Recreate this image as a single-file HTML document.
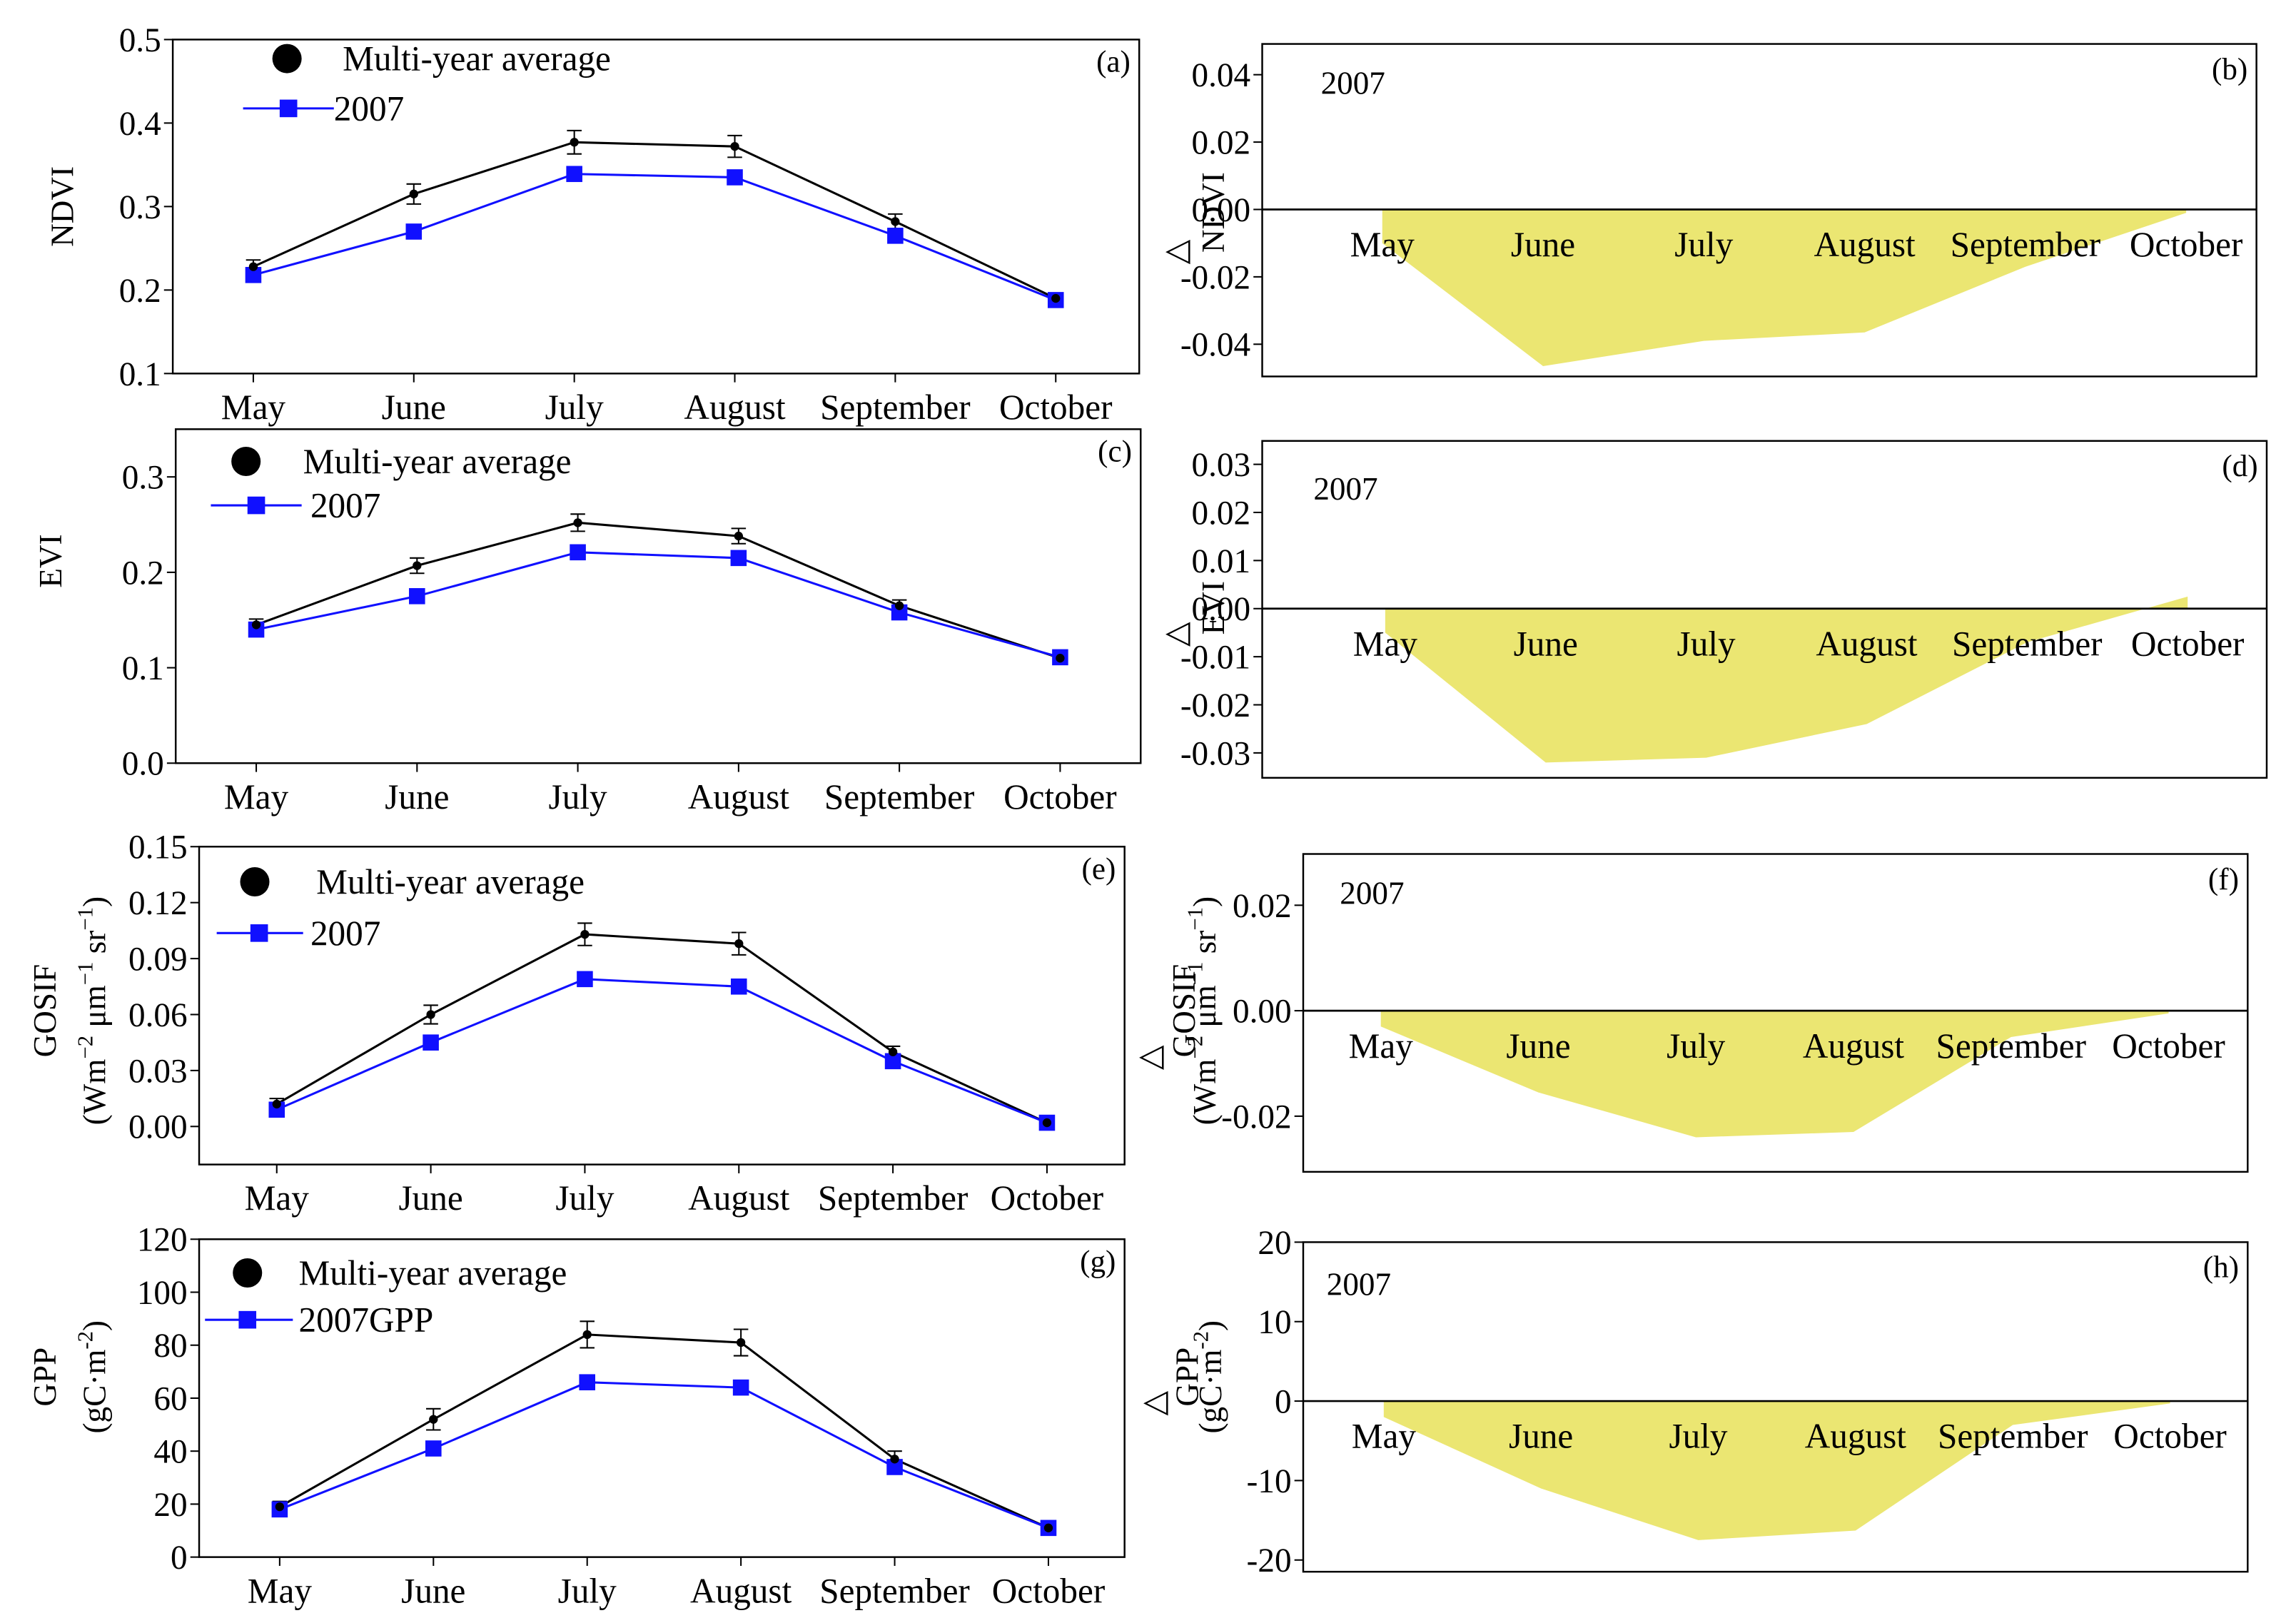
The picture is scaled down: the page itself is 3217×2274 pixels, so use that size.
<!DOCTYPE html>
<html><head><meta charset="utf-8"><style>
html,body{margin:0;padding:0;background:#fff}
svg{display:block;font-family:"Liberation Serif",serif}
</style></head><body>
<svg id="fig" width="3217" height="2274" viewBox="0 0 1568 1108" preserveAspectRatio="none" xmlns="http://www.w3.org/2000/svg"></svg>
<script>
const months = ["May","June","July","August","September","October"];
// left panels data
const ndviAvg = [0.228,0.315,0.377,0.372,0.282,0.190];
const ndvi2007 = [0.218,0.270,0.339,0.335,0.265,0.188];
const eviAvg = [0.145,0.207,0.252,0.238,0.165,0.110];
const evi2007 = [0.140,0.175,0.221,0.215,0.158,0.111];
const sifAvg = [0.012,0.060,0.103,0.098,0.040,0.002];
const sif2007 = [0.009,0.045,0.079,0.075,0.035,0.002];
const gppAvg = [19,52,84,81,37,11];
const gpp2007 = [18,41,66,64,34,11];
// error bars
const ndviErr = [0.008,0.012,0.014,0.013,0.009,0.004];
const eviErr = [0.006,0.008,0.009,0.008,0.006,0.003];
const sifErr = [0.003,0.005,0.006,0.006,0.003,0.002];
const gppErr = [2,4,5,5,3,1.5];
// differences
const ndviDiff = [-0.010,-0.0465,-0.039,-0.0365,-0.017,-0.001];
const eviDiff = [-0.005,-0.032,-0.031,-0.024,-0.007,0.0025];
const sifDiff = [-0.003,-0.0155,-0.024,-0.023,-0.005,-0.0005];
const gppDiff = [-2,-11,-17.5,-16.3,-3,-0.3];
// ticks
const ndviTicks = ["0.1","0.2","0.3","0.4","0.5"];
const eviTicks = ["0.0","0.1","0.2","0.3"];
const sifTicks = ["0.00","0.03","0.06","0.09","0.12","0.15"];
const gppTicks = ["0","20","40","60","80","100","120"];
const dNdviTicks = ["-0.04","-0.02","0.00","0.02","0.04"];
const dEviTicks = ["-0.03","-0.02","-0.01","0.00","0.01","0.02","0.03"];
const dSifTicks = ["-0.02","0.00","0.02"];
const dGppTicks = ["-20","-10","0","10","20"];

const svg = document.getElementById('fig');
const NS = "http://www.w3.org/2000/svg";
function mk(tag, attrs, parent, text){
  const e = document.createElementNS(NS, tag);
  for (const k in attrs) e.setAttribute(k, attrs[k]);
  if (text !== undefined) e.textContent = text;
  (parent||svg).appendChild(e);
  return e;
}
function scale(d0,d1,r0,r1){return v => r0 + (v-d0)/(d1-d0)*(r1-r0);}

function leftPanel(p){
  const g = mk('g',{});
  
  
  const y = scale(p.d0,p.d1,p.bottom,p.top);
  const x = i => p.x0 + i*p.dx;
  const fr = mk('rect',{x:p.left,y:p.top,width:p.right-p.left,height:p.bottom-p.top,fill:'none',stroke:'#000','stroke-width':1.2},g);
  
  
  p.ticks.forEach(t=>{
    const v = parseFloat(t), yy = y(v);
    mk('line',{x1:p.left-6,x2:p.left,y1:yy,y2:yy,stroke:'#000'},g);
    const tx = mk('text',{x:p.left-8,y:yy+8,'text-anchor':'end','font-size':23},g,t);
    
    
  });
  months.forEach((m,i)=>{
    mk('line',{x1:x(i),x2:x(i),y1:p.bottom,y2:p.bottom+6,stroke:'#000'},g);
    const tx = mk('text',{x:x(i),y:p.bottom+31,'text-anchor':'middle','font-size':24},g,m);
    
    
  });
  const la = mk('polyline',{points:p.avg.map((v,i)=>x(i)+','+y(v)).join(' '),fill:'none',stroke:'#000','stroke-width':1.5},g);
  
  
  const lb = mk('polyline',{points:p.yr.map((v,i)=>x(i)+','+y(v)).join(' '),fill:'none',stroke:'#1010ff','stroke-width':1.5},g);
  
  
  p.avg.forEach((v,i)=>{
    const e = p.err[i];
    mk('line',{x1:x(i),x2:x(i),y1:y(v+e),y2:y(v-e),stroke:'#000'},g);
    mk('line',{x1:x(i)-5,x2:x(i)+5,y1:y(v+e),y2:y(v+e),stroke:'#000'},g);
    mk('line',{x1:x(i)-5,x2:x(i)+5,y1:y(v-e),y2:y(v-e),stroke:'#000'},g);
  });
  p.yr.forEach((v,i)=>{
    const s = mk('rect',{x:x(i)-5.5,y:y(v)-5.5,width:11,height:11,fill:'#1010ff'},g);
    
    
  });
  p.avg.forEach((v,i)=>{
    const c = mk('circle',{cx:x(i),cy:y(v),r:3,fill:'#000'},g);
    
    
  });
  const lg = mk('g',{},g);
  
  
  mk('circle',{cx:p.lc[0],cy:p.lc[1],r:10,fill:'#000'},lg);
  mk('text',{x:p.lt[0],y:p.lc[1]+8,'font-size':24},lg,'Multi-year average');
  mk('line',{x1:p.ll[0],x2:p.ll[1],y1:p.ll[2],y2:p.ll[2],stroke:'#1010ff','stroke-width':1.5},lg);
  mk('rect',{x:p.ll[3]-6,y:p.ll[2]-6,width:12,height:12,fill:'#1010ff'},lg);
  mk('text',{x:p.ll[4],y:p.ll[2]+8,'font-size':24},lg,p.yrLabel);
  const pl = mk('text',{x:p.right-6,y:p.top+22,'text-anchor':'end','font-size':21},g,p.letter);
  
  
  p.ylab.forEach((l,k)=>{
    const t = mk('text',{transform:`translate(${l[0]},${l[1]}) rotate(-90)`,'text-anchor':'middle','font-size':22},g);
    t.innerHTML = l[2];
    
    
  });
}

function rightPanel(p){
  const g = mk('g',{});
  
  
  const y = scale(p.d0,p.d1,p.bot0,p.top0);
  const x = i => p.x0 + i*p.dx;
  const pts = [x(0)+','+y(0)].concat(p.diff.map((v,i)=>x(i)+','+y(v))).concat([x(5)+','+y(0)]);
  const a = mk('polygon',{points:pts.join(' '),fill:'#ebe672',stroke:'none'},g);
  
  
  const fr = mk('rect',{x:p.left,y:p.top,width:p.right-p.left,height:p.bottom-p.top,fill:'none',stroke:'#000','stroke-width':1.2},g);
  
  
  mk('line',{x1:p.left,x2:p.right,y1:y(0),y2:y(0),stroke:'#000','stroke-width':1.3},g);
  p.ticks.forEach(t=>{
    const v = parseFloat(t), yy = y(v);
    mk('line',{x1:p.left-6,x2:p.left,y1:yy,y2:yy,stroke:'#000'},g);
    const tx = mk('text',{x:p.left-8,y:yy+8,'text-anchor':'end','font-size':23},g,t);
    
    
  });
  months.forEach((m,i)=>{
    const tx = mk('text',{x:x(i),y:y(0)+32,'text-anchor':'middle','font-size':24},g,m);
    
    
  });
  mk('text',{x:p.yl[0],y:p.yl[1],'font-size':22},g,'2007');
  const pl = mk('text',{x:p.right-6,y:p.top+24,'text-anchor':'end','font-size':21},g,p.letter);
  
  
  const tri = mk('text',{transform:`translate(${p.tri[0]},${p.tri[1]}) rotate(-90)`,'text-anchor':'middle','font-size':22},g,'△');
  
  
  p.ylab.forEach(l=>{
    const t = mk('text',{transform:`translate(${l[0]},${l[1]}) rotate(-90)`,'text-anchor':'middle','font-size':22},g);
    t.innerHTML = l[2];
    
    
  });
}

leftPanel({name:'panel-a-ndvi',left:118,top:27,right:778,bottom:255,d0:0.1,d1:0.5,x0:173,dx:109.6,
  avg:ndviAvg,yr:ndvi2007,err:ndviErr,ticks:ndviTicks,lc:[196,40],lt:[234],ll:[166,228,74,197,228],yrLabel:'2007',letter:'(a)',
  ylab:[[50,141,'NDVI']]});
leftPanel({name:'panel-c-evi',left:120,top:293,right:779,bottom:521,d0:0,d1:0.35,x0:175,dx:109.8,
  avg:eviAvg,yr:evi2007,err:eviErr,ticks:eviTicks,lc:[168,315],lt:[207],ll:[144,206,345,175,212],yrLabel:'2007',letter:'(c)',
  ylab:[[42,383,'EVI']]});
leftPanel({name:'panel-e-gosif',left:136,top:578,right:768,bottom:795,d0:-0.0204,d1:0.15,x0:189,dx:105.2,
  avg:sifAvg,yr:sif2007,err:sifErr,ticks:sifTicks,lc:[174,602],lt:[216],ll:[148,207,637,177,212],yrLabel:'2007',letter:'(e)',
  ylab:[[38,690,'GOSIF'],[72,690,'(Wm<tspan dy="-9" font-size="15">−2</tspan><tspan dy="9"> μm</tspan><tspan dy="-9" font-size="15">−1</tspan><tspan dy="9"> sr</tspan><tspan dy="-9" font-size="15">−1</tspan><tspan dy="9">)</tspan>']]});
leftPanel({name:'panel-g-gpp',left:136,top:846,right:768,bottom:1063,d0:0,d1:120,x0:191,dx:105,
  avg:gppAvg,yr:gpp2007,err:gppErr,ticks:gppTicks,lc:[169,869],lt:[204],ll:[140,200,901,169,204],yrLabel:'2007GPP',letter:'(g)',
  ylab:[[38,940,'GPP'],[72,940,'(gC·m<tspan dy="-9" font-size="15">-2</tspan><tspan dy="9">)</tspan>']]});

rightPanel({name:'panel-b-delta-ndvi',left:862,top:30,right:1541,bottom:257,d0:-0.04,d1:0.04,bot0:235,top0:51,x0:944,dx:109.8,
  diff:ndviDiff,ticks:dNdviTicks,yl:[902,64],letter:'(b)',tri:[810,172],ylab:[[836,145,'NDVI']]});
rightPanel({name:'panel-d-delta-evi',left:862,top:301,right:1548,bottom:531,d0:-0.03,d1:0.03,bot0:514,top0:317,x0:946,dx:109.6,
  diff:eviDiff,ticks:dEviTicks,yl:[897,341],letter:'(d)',tri:[810,433],ylab:[[836,415,'EVI']]});
rightPanel({name:'panel-f-delta-gosif',left:890,top:583,right:1535,bottom:800,d0:-0.02,d1:0.02,bot0:762,top0:618,x0:943,dx:107.6,
  diff:sifDiff,ticks:dSifTicks,yl:[915,617],letter:'(f)',tri:[792,722],
  ylab:[[816,690,'GOSIF'],[830,690,'(Wm<tspan dy="-9" font-size="15">−2</tspan><tspan dy="9"> μm</tspan><tspan dy="-9" font-size="15">−1</tspan><tspan dy="9"> sr</tspan><tspan dy="-9" font-size="15">−1</tspan><tspan dy="9">)</tspan>']]});
rightPanel({name:'panel-h-delta-gpp',left:890,top:848,right:1535,bottom:1073,d0:-20,d1:20,bot0:1065,top0:848,x0:945,dx:107.4,
  diff:gppDiff,ticks:dGppTicks,yl:[906,884],letter:'(h)',tri:[795,958],
  ylab:[[818,940,'GPP'],[834,940,'(gC·m<tspan dy="-9" font-size="15">-2</tspan><tspan dy="9">)</tspan>']]});
</script>
</body></html>
